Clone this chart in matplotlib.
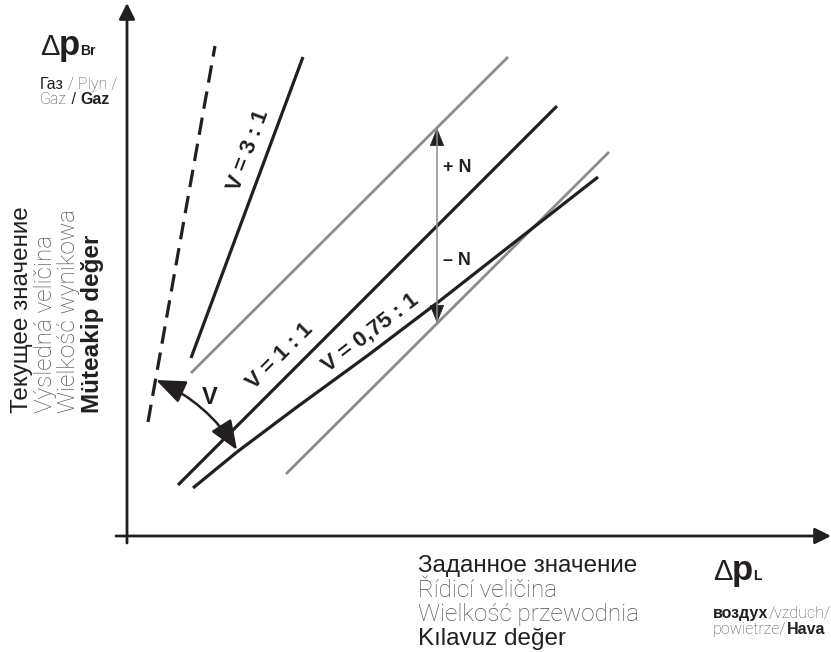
import numpy as np
import matplotlib.pyplot as plt
from matplotlib.patches import FancyArrowPatch

INK = '#231f20'
GREY = '#8c8c8c'
TXT_GREY = '#4f5053'
MAIN = 'Liberation Sans'
LIGHT = 'Roboto'

# schematic values, x = Δp air, y = Δp gas, origin in the axis corner
dashed_x = [21, 88]
dashed_y = [114, 490]
ratio3_x = [64, 176]
ratio3_y = [178, 479]
ratio1_x = [51, 430]
ratio1_y = [51, 430]
ratio075_x = [66, 110, 170, 240, 310, 416, 471]
ratio075_y = [48, 84, 129, 180, 233, 316, 359]
band_hi_x = [64, 381]
band_hi_y = [163, 479]
band_lo_x = [159, 482]
band_lo_y = [62, 384]
n_x = 310
n_hi, n_lo = 408, 213
v_from = (29, 156)
v_to = (110, 86)

ylabel_lines = ['Текущее значение', 'Výsledná veličina', 'Wielkość wynikowa', 'Müteakip değer']
xlabel_lines = ['Заданное значение', 'Řídicí veličina', 'Wielkość przewodnia', 'Kılavuz değer']

fig = plt.figure(figsize=(8.31, 6.52), dpi=100)
ax = fig.add_axes([0, 0, 1, 1])
ax.set_xlim(-127, 704)
ax.set_ylim(-116, 536)
ax.set_axis_off()

# axes with arrows
ax.add_patch(FancyArrowPatch((0, -7), (0, 533), arrowstyle='-|>', mutation_scale=24,
                             lw=2.0, color=INK, shrinkA=0, shrinkB=0))
ax.add_patch(FancyArrowPatch((-11, 0), (704, 0), arrowstyle='-|>', mutation_scale=24,
                             lw=2.0, color=INK, shrinkA=0, shrinkB=0))

# lines
ax.plot(band_hi_x, band_hi_y, color=GREY, lw=2.0, solid_capstyle='butt')
ax.plot(band_lo_x, band_lo_y, color=GREY, lw=2.0, solid_capstyle='butt')
ax.plot(dashed_x, dashed_y, color=INK, lw=2.3, dashes=(5.5, 2.8), dash_capstyle='butt')
ax.plot(ratio3_x, ratio3_y, color=INK, lw=2.3, solid_capstyle='butt')
ax.plot(ratio1_x, ratio1_y, color=INK, lw=2.3, solid_capstyle='butt')
ax.plot(ratio075_x, ratio075_y, color=INK, lw=2.3, solid_capstyle='butt',
        solid_joinstyle='round')

# +N / -N band arrow: grey shaft, black heads
ax.plot([n_x, n_x], [n_lo, n_hi], color=GREY, lw=1.1)
head = dict(arrowstyle='-|>,head_length=0.75,head_width=0.3', mutation_scale=16,
            lw=0.5, color=INK, shrinkA=0, shrinkB=0)
ax.add_patch(FancyArrowPatch((n_x, n_hi - 12), (n_x, n_hi), **head))
ax.add_patch(FancyArrowPatch((n_x, n_lo + 12), (n_x, n_lo), **head))
ax.text(316, 364, '+ N', fontsize=13, fontweight='bold', family=MAIN, color=INK)
ax.text(316, 271, '– N', fontsize=13, fontweight='bold', family=MAIN, color=INK)

# V angle arrow
ax.add_patch(FancyArrowPatch(v_from, v_to, connectionstyle='arc3,rad=-0.15',
                             arrowstyle='<|-|>,head_length=1.0,head_width=0.4',
                             mutation_scale=18, lw=1.8, color=INK, shrinkA=0, shrinkB=0))
ax.text(83, 138, 'V', fontsize=17, fontweight='bold', family=MAIN, color=INK,
        ha='center', va='center')

lab = dict(fontsize=16, fontweight='bold', family=MAIN, color=INK,
           ha='center', va='center', rotation_mode='anchor')
ax.text(122, 386, 'V = 3 : 1', rotation=69.6, **lab)
ax.text(153, 180, 'V = 1 : 1', rotation=45, **lab)
ax.text(243, 203, 'V = 0,75 : 1', rotation=37.5, **lab)

# axis titles
def symbol(x, y, sub):
    ax.text(x, y, 'Δ', fontsize=21, family=MAIN, color=INK, va='baseline')
    ax.text(x + 19, y, 'p', fontsize=25, fontweight='bold', family=MAIN, color=INK, va='baseline')
    ax.text(x + 40, y, sub, fontsize=10, fontweight='bold', family=MAIN, color=INK, va='baseline')

def chain(x, y, pieces, size):
    prev = None
    for s, color, fam, weight in pieces:
        kw = dict(fontsize=size, family=fam, fontweight=weight, color=color)
        if prev is None:
            prev = ax.text(x, y, s, va='baseline', **kw)
        else:
            prev = ax.annotate(s, xy=(1, 0), xycoords=prev, ha='left', va='bottom', **kw)

symbol(-87, 481, 'Br')
chain(-87, 447, [('Газ', INK, MAIN, 'medium'), (' / Plyn /', TXT_GREY, LIGHT, 'light')], 11.5)
chain(-87, 432, [('Gaz', TXT_GREY, LIGHT, 'light'), (' / ', INK, MAIN, 'normal'),
                 ('Gaz', INK, MAIN, 'bold')], 11.5)

symbol(586, -44, 'L')
chain(586, -82, [('воздух', INK, MAIN, 'bold'), ('/vzduch/', TXT_GREY, LIGHT, 'light')], 11.5)
chain(586, -98, [('powietrze/', TXT_GREY, LIGHT, 'light'), ('Hava', INK, MAIN, 'bold')], 11.5)

ystyle = [(INK, MAIN, 'normal'), (TXT_GREY, LIGHT, 'light'),
          (TXT_GREY, LIGHT, 'light'), (INK, MAIN, 'bold')]
for txt, xc, (c, fam, w) in zip(ylabel_lines, [-105, -81, -58, -35], ystyle):
    ax.text(xc, 123, txt, rotation=90, ha='center', va='bottom', fontsize=17.5,
            color=c, family=fam, fontweight=w)

xstyle = [(INK, MAIN, 'normal'), (TXT_GREY, LIGHT, 'light'),
          (TXT_GREY, LIGHT, 'light'), (INK, MAIN, 'normal')]
for txt, yb, (c, fam, w) in zip(xlabel_lines, [-36, -61, -85, -109], xstyle):
    ax.text(291, yb, txt, ha='left', va='baseline', fontsize=17.5,
            color=c, family=fam, fontweight=w)

fig.savefig('out.png', dpi=100)
